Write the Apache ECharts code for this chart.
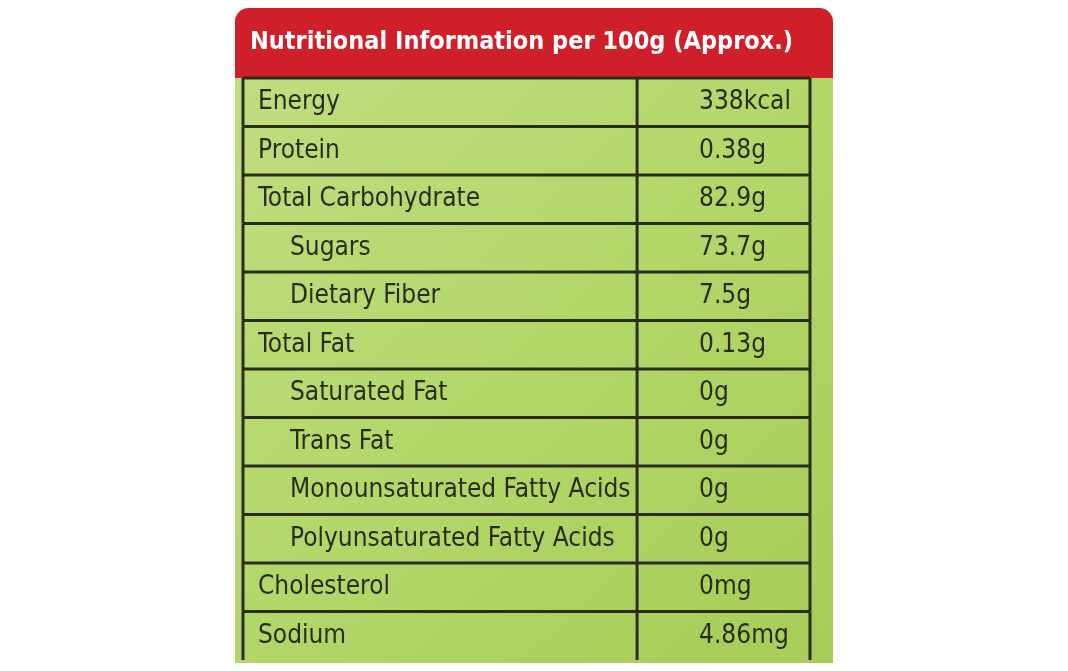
<!DOCTYPE html>
<html><head><meta charset="utf-8">
<script src="https://cdn.jsdelivr.net/npm/echarts@6/dist/echarts.min.js"></script>
<style>html,body{margin:0;padding:0;background:#fff}#c{width:1068px;height:671px}</style>
</head><body><div id="c"></div>
<script>
const title = 'Nutritional Information per 100g (Approx.)';
const nutrients = ['Energy','Protein','Total Carbohydrate','Sugars','Dietary Fiber','Total Fat','Saturated Fat','Trans Fat','Monounsaturated Fatty Acids','Polyunsaturated Fatty Acids','Cholesterol','Sodium'];
const amounts = ['338kcal','0.38g','82.9g','73.7g','7.5g','0.13g','0g','0g','0g','0g','0mg','4.86mg'];
const indentLevel = [0,0,0,1,1,0,1,1,1,1,0,0];

const chart = echarts.init(document.getElementById('c'));
const FONT = '"Liberation Sans Narrow","DejaVu Sans Condensed","Roboto",sans-serif';
const INK = '#2b2d1c';
const DIV = 0.695;
chart.setOption({
  animation:false,
  backgroundColor:'#ffffff',
  graphic:[
    {type:'rect',z:-10,shape:{x:235,y:8,width:598,height:655,r:[14,14,0,0]},
     style:{fill:new echarts.graphic.LinearGradient(0,0,1,1,[{offset:0,color:'#c3dd83'},{offset:0.5,color:'#b4d76a'},{offset:1,color:'#a7cc57'}])}},
    {type:'rect',z:-5,shape:{x:235,y:8,width:598,height:70,r:[14,14,0,0]},style:{fill:'#cf1f2b'}},
    {type:'text',z:5,left:250,top:30,style:{text:title,fill:'#ffffff',font:'bold 25px '+FONT}}
  ],
  grid:{left:243,right:258,top:78,bottom:11},
  xAxis:{type:'value',min:0,max:1,show:false},
  yAxis:{type:'category',data:nutrients,inverse:true,show:false},
  series:[{
    type:'custom',
    data:nutrients.map((n,i)=>[i]),
    renderItem:function(params,api){
      const i = api.value(0);
      const h = api.size([0,1])[1];
      const c = api.coord([0,i]);
      const x0 = c[0], yTop = c[1]-h/2, yBot = c[1]+h/2;
      const xd = api.coord([DIV,i])[0], x1 = api.coord([1,i])[0];
      const ls = {stroke:INK,lineWidth:3};
      const kids = [
        {type:'line',shape:{x1:x0,y1:yTop,x2:x1,y2:yTop},style:ls},
        {type:'line',shape:{x1:x0,y1:yTop,x2:x0,y2:yBot},style:ls},
        {type:'line',shape:{x1:xd,y1:yTop,x2:xd,y2:yBot},style:ls},
        {type:'line',shape:{x1:x1,y1:yTop,x2:x1,y2:yBot},style:ls},
        {type:'text',style:{x:x0+15+indentLevel[i]*32,y:c[1],text:nutrients[i],fill:INK,font:'26px '+FONT,verticalAlign:'middle'}},
        {type:'text',style:{x:xd+62,y:c[1],text:amounts[i],fill:INK,font:'26px '+FONT,verticalAlign:'middle'}}
      ];
      return {type:'group',children:kids};
    }
  }]
});
</script></body></html>
